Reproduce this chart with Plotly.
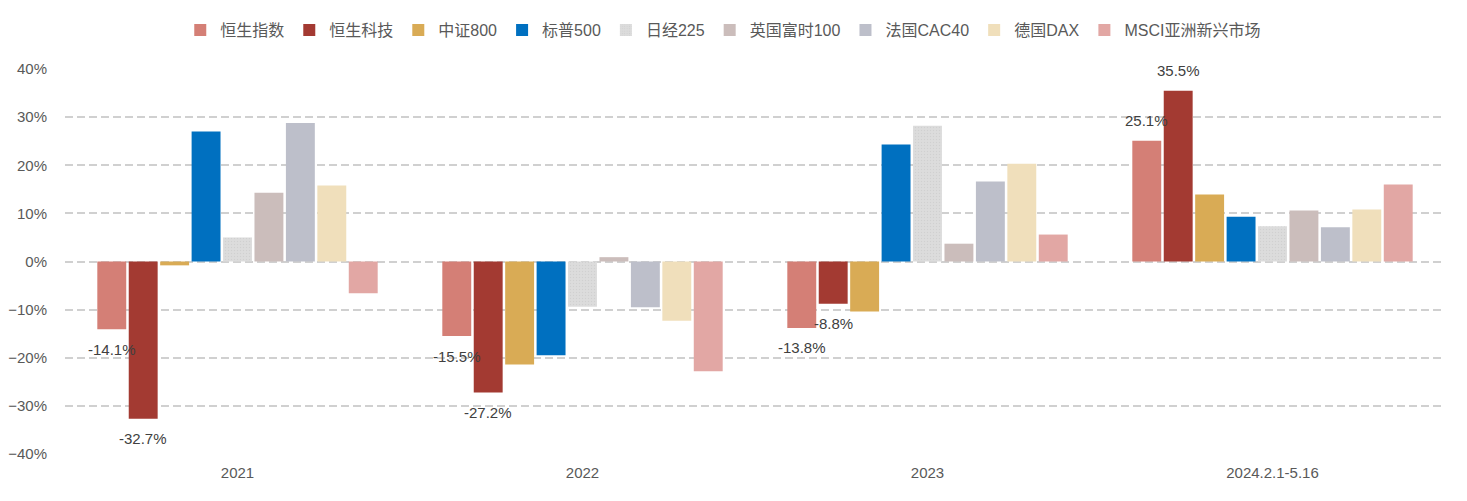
import plotly.graph_objects as go

categories = ["2021", "2022", "2023", "2024.2.1-5.16"]

series_names = ["恒生指数", "恒生科技", "中证800", "标普500", "日经225",
                "英国富时100", "法国CAC40", "德国DAX", "MSCI亚洲新兴市场"]

hsi = [-14.1, -15.5, -13.8, 25.1]
hstech = [-32.7, -27.2, -8.8, 35.5]
csi800 = [-0.8, -21.4, -10.4, 13.9]
sp500 = [27.0, -19.5, 24.3, 9.3]
nikkei = [5.0, -9.4, 28.2, 7.3]
ftse = [14.3, 0.9, 3.7, 10.6]
cac40 = [28.8, -9.5, 16.6, 7.1]
dax = [15.8, -12.3, 20.3, 10.8]
msci_asia = [-6.6, -22.8, 5.6, 16.0]

all_values = [hsi, hstech, csi800, sp500, nikkei, ftse, cac40, dax, msci_asia]
colors = ["#D47F76", "#A33A32", "#D9AB55", "#0070C0", "#DADADA",
          "#CBBDBB", "#BDBFCA", "#F0DFBB", "#E2A7A4"]
labeled = [0, 1]  # series whose values are labelled

FONT = "Liberation Sans, Arial, Noto Sans CJK SC, sans-serif"
BARGAP = 0.18
BARGROUPGAP = 0.08

fig = go.Figure()
for i, (name, vals, col) in enumerate(zip(series_names, all_values, colors)):
    marker = dict(color=col, line=dict(width=0))
    if name == "日经225":
        marker["pattern"] = dict(shape=".", fgcolor="#C4C4C4", bgcolor="#DCDCDC",
                                 size=3, solidity=0.2)
    fig.add_trace(go.Bar(name=name, x=categories, y=vals, marker=marker))

# value labels for the two Hang Seng series
n = len(series_names)
slot = (1 - BARGAP) / n
annotations = []
for i in labeled:
    for ci, v in enumerate(all_values[i]):
        xpos = ci + (i - (n - 1) / 2) * slot
        annotations.append(dict(
            x=xpos, y=v, xref="x", yref="y", text=f"{v:.1f}%",
            showarrow=False, yshift=20 if v > 0 else -20,
            font=dict(family=FONT, size=15, color="#404040")))

fig.update_layout(
    barmode="group",
    bargap=BARGAP,
    bargroupgap=BARGROUPGAP,
    width=1467, height=501,
    margin=dict(l=57, r=30, t=61, b=55, autoexpand=False),
    plot_bgcolor="white",
    paper_bgcolor="white",
    font=dict(family=FONT, size=15, color="#595959"),
    legend=dict(orientation="h", x=0.477, xanchor="center",
                y=0.956, yref="container", yanchor="middle",
                font=dict(family=FONT, size=16, color="#595959"),
                itemwidth=30, traceorder="normal"),
    annotations=annotations,
)
fig.update_yaxes(range=[-40, 40], dtick=10, ticksuffix="%",
                 showgrid=True, gridcolor="#D0D0D0", griddash="8px,4px", gridwidth=1.5,
                 zeroline=False, showline=False, ticks="", automargin=False,
                 ticklabelstandoff=17,
                 tickfont=dict(family=FONT, size=15, color="#595959"))
fig.update_xaxes(type="category", showline=False, ticks="", automargin=False,
                 ticklabelstandoff=8,
                 tickfont=dict(family=FONT, size=15, color="#595959"))

fig.write_html("out.html")
